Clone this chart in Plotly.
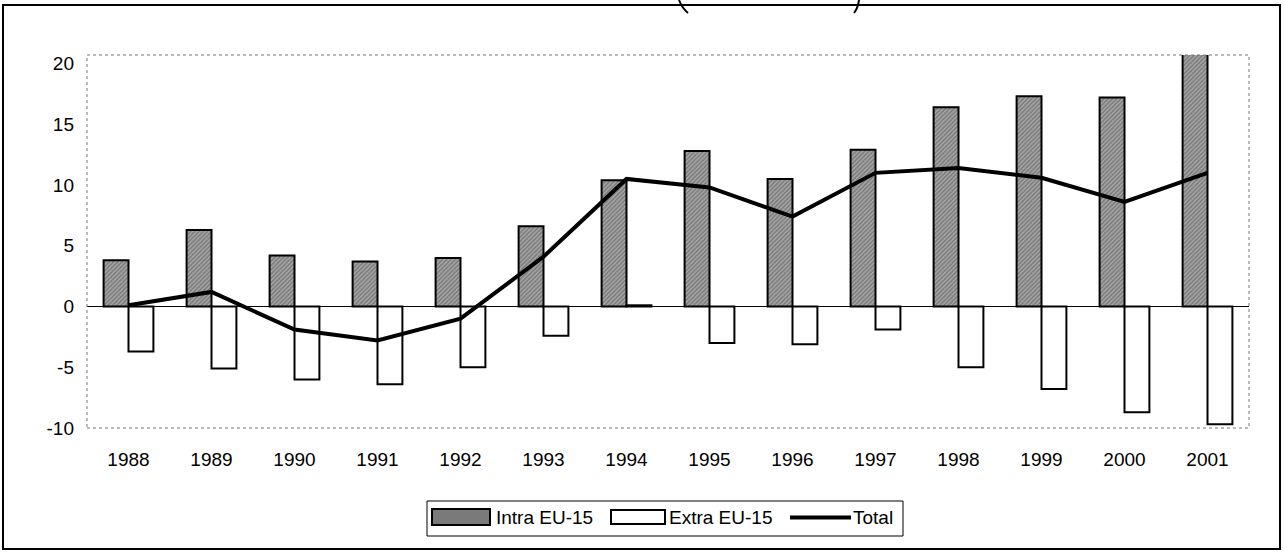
import plotly.graph_objects as go

years = ["1988", "1989", "1990", "1991", "1992", "1993", "1994",
         "1995", "1996", "1997", "1998", "1999", "2000", "2001"]
intra = [3.8, 6.3, 4.2, 3.7, 4.0, 6.6, 10.4, 12.8, 10.5, 12.9, 16.4, 17.3, 17.2, 20.8]
extra = [-3.7, -5.1, -6.0, -6.4, -5.0, -2.4, 0.1, -3.0, -3.1, -1.9, -5.0, -6.8, -8.7, -9.7]
total = [0.1, 1.2, -1.9, -2.8, -1.0, 4.1, 10.5, 9.8, 7.4, 11.0, 11.4, 10.6, 8.6, 11.0]
y_ticks = [-10, -5, 0, 5, 10, 15, 20]
y_tick_labels = ["-10", "-5", "0", "5", "10", "15", "20"]
legend_names = ["Intra EU-15", "Extra EU-15", "Total"]

# plot area in pixels (for paper-coordinate conversions)
W, H = 1284, 552
L, R, T, B = 87, 1249, 55, 428
FONT = "Liberation Sans, Arial, sans-serif"


def px(x):
    return (x - L) / (R - L)


def py(y):
    return (B - y) / (B - T)


fig = go.Figure()
fig.add_trace(go.Bar(
    x=years, y=intra, name=legend_names[0], showlegend=False,
    marker=dict(color="#8a8a8a", line=dict(color="black", width=2),
                pattern=dict(shape="/", size=3, solidity=0.5,
                             fgcolor="#4a4a4a", bgcolor="#a8a8a8")),
))
fig.add_trace(go.Bar(
    x=years, y=extra, name=legend_names[1], showlegend=False,
    marker=dict(color="white", line=dict(color="black", width=2)),
))
fig.add_trace(go.Scatter(
    x=years, y=total, name=legend_names[2], mode="lines", showlegend=False,
    line=dict(color="black", width=4),
))


def rect(x0, x1, y0, y1, **kw):
    return dict(type="rect", xref="paper", yref="paper",
                x0=px(x0), x1=px(x1), y0=py(y1), y1=py(y0), **kw)


shapes = [
    # dotted plot-area border
    dict(type="rect", xref="paper", yref="paper", x0=0, x1=1, y0=0, y1=1,
         line=dict(color="#777777", width=1, dash="dot"), layer="above"),
    # outer frame
    rect(3, 1280, 5, 549, line=dict(color="black", width=2)),
    # partial title box corners at top
    dict(type="path", xref="paper", yref="paper",
         path=f"M {px(679)},{py(0)} Q {px(682)},{py(8)} {px(688)},{py(13)}",
         line=dict(color="black", width=2)),
    dict(type="path", xref="paper", yref="paper",
         path=f"M {px(859)},{py(0)} Q {px(858)},{py(8)} {px(854)},{py(13)}",
         line=dict(color="black", width=2)),
    # custom legend box
    rect(427, 903, 501, 536, line=dict(color="black", width=1), fillcolor="white"),
    # legend symbols
    rect(432, 490, 509, 525, line=dict(color="black", width=2), fillcolor="#7a7a7a"),
    rect(611, 665, 510, 524, line=dict(color="black", width=2), fillcolor="white"),
    dict(type="line", xref="paper", yref="paper",
         x0=px(790), x1=px(851), y0=py(517.5), y1=py(517.5),
         line=dict(color="black", width=4)),
]

annotations = [
    dict(xref="paper", yref="paper", x=px(x0), y=py(517.5), text=t,
         xanchor="left", yanchor="middle", showarrow=False,
         font=dict(family=FONT, size=19, color="black"))
    for x0, t in zip([494, 667, 851], legend_names)
]

fig.update_layout(
    width=W, height=H,
    margin=dict(l=L, r=W - R, t=T, b=H - B),
    paper_bgcolor="white", plot_bgcolor="white",
    barmode="group", bargap=0.4, bargroupgap=0,
    font=dict(family=FONT, size=19, color="black"),
    showlegend=False,
    shapes=shapes,
    annotations=annotations,
)
fig.update_xaxes(showgrid=False, showline=False, ticks="",
                 ticklabelstandoff=18, tickfont=dict(size=19))
fig.update_yaxes(range=[-10, 20.7], tickvals=y_ticks, ticktext=y_tick_labels,
                 showgrid=False,
                 zeroline=True, zerolinecolor="black", zerolinewidth=1,
                 showline=False, ticks="", ticklabelstandoff=12,
                 tickfont=dict(size=19))

fig.write_html("out.html",
               config={"displayModeBar": False},
               post_script="document.body.style.margin='0';"
                           "document.body.style.overflow='hidden';")
